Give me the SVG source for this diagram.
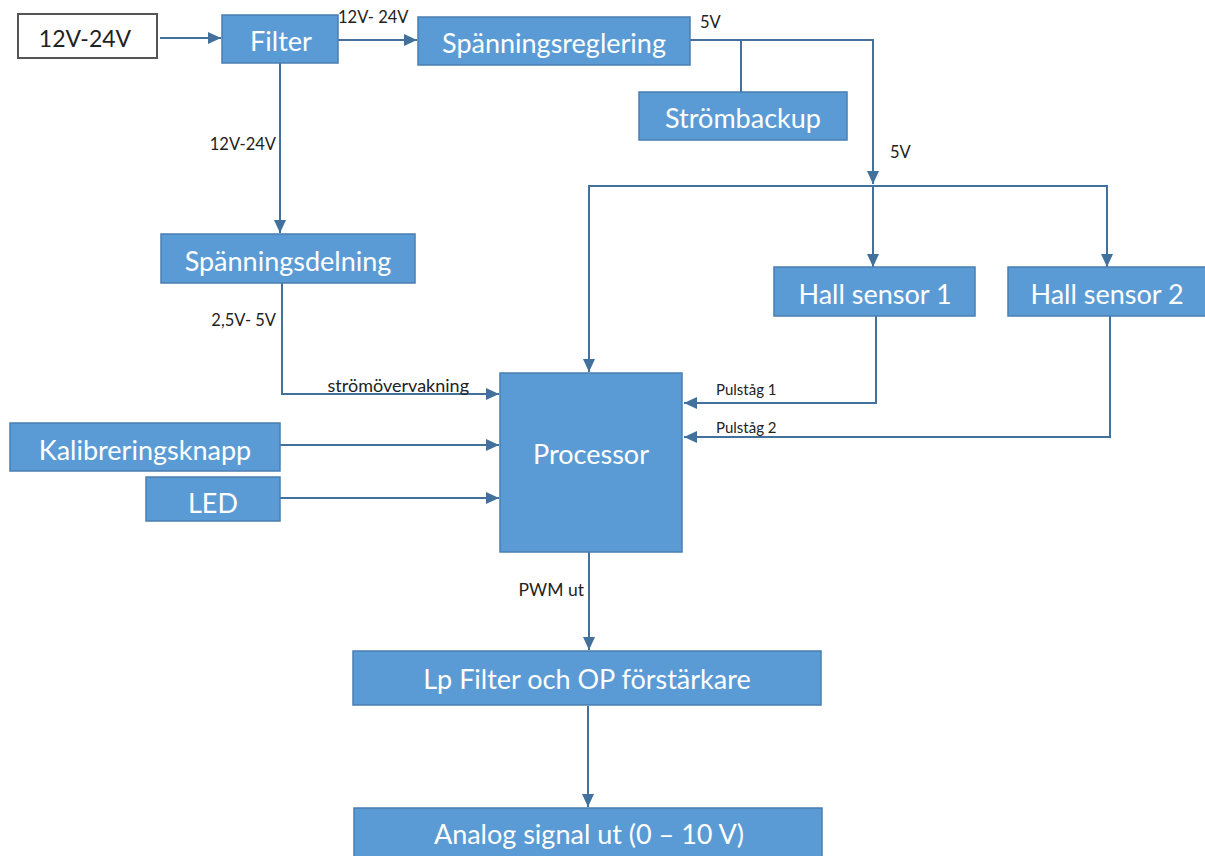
<svg xmlns="http://www.w3.org/2000/svg" width="1205" height="856" viewBox="0 0 1205 856">
  <style>
    .box { fill: #5B9BD5; stroke: #4A7EB0; stroke-width: 1.5; }
    .src { fill: #FFFFFF; stroke: #555555; stroke-width: 2; }
    .lbl { font-family: Lato, "Liberation Sans", sans-serif; font-size: 27px; fill: #FFFFFF; text-anchor: middle; dominant-baseline: central; }
    .srclbl { font-family: Lato, "Liberation Sans", sans-serif; font-size: 23px; fill: #222222; text-anchor: middle; dominant-baseline: central; }
    .note { font-family: Lato, "Liberation Sans", sans-serif; font-size: 16.5px; fill: #222222; }
    .end { text-anchor: end; }
    .wire { fill: none; stroke: #41719C; stroke-width: 2; }
  </style>
  <defs>
    <marker id="arrow" markerUnits="userSpaceOnUse" markerWidth="14" markerHeight="14" viewBox="0 0 14 14" refX="13" refY="7" orient="auto">
      <path d="M0,1 L13,7 L0,13 Z" fill="#41719C"/>
    </marker>
  </defs>

  <rect width="1205" height="856" fill="#FFFFFF"/>

  <!-- connectors -->
  <g id="connectors">
    <path class="wire" d="M160,38 H221" marker-end="url(#arrow)"/>
    <path class="wire" d="M338,40 H417" marker-end="url(#arrow)"/>
    <path class="wire" d="M690,40 H873 V184" marker-end="url(#arrow)"/>
    <path class="wire" d="M741,40 V92"/>
    <!-- 5V bus -->
    <path class="wire" d="M873,186 H589 V372" marker-end="url(#arrow)"/>
    <path class="wire" d="M873,186 H1107 V267" marker-end="url(#arrow)"/>
    <path class="wire" d="M873,186 V267" marker-end="url(#arrow)"/>
    <path class="wire" d="M280,63 V233" marker-end="url(#arrow)"/>
    <path class="wire" d="M282,283 V394 H499" marker-end="url(#arrow)"/>
    <path class="wire" d="M280,445 H499" marker-end="url(#arrow)"/>
    <path class="wire" d="M280,498 H499" marker-end="url(#arrow)"/>
    <path class="wire" d="M876,316 V403 H684" marker-end="url(#arrow)"/>
    <path class="wire" d="M1110,316 V437 H684" marker-end="url(#arrow)"/>
    <path class="wire" d="M589,552 V650" marker-end="url(#arrow)"/>
    <path class="wire" d="M588,706 V807" marker-end="url(#arrow)"/>

    <text class="note" x="338" y="23">12V- 24V</text>
    <text class="note" x="700" y="28">5V</text>
    <text class="note" x="890" y="158">5V</text>
    <text class="note end" x="276" y="150">12V-24V</text>
    <text class="note end" x="276" y="326">2,5V- 5V</text>
    <text class="note end" x="469" y="392" style="font-size:18px">strömövervakning</text>
    <text class="note" x="716" y="395" style="font-size:15px">Pulståg 1</text>
    <text class="note" x="716" y="433" style="font-size:15px">Pulståg 2</text>
    <text class="note end" x="584" y="596" style="font-size:17.5px">PWM ut</text>
  </g>

  <g id="source">
    <rect class="src" x="18" y="14" width="139" height="44"/>
    <text class="srclbl" x="85" y="38">12V-24V</text>
  </g>
  <g id="filter">
    <rect class="box" x="222" y="15" width="116" height="48"/>
    <text class="lbl" x="281" y="40">Filter</text>
  </g>
  <g id="spanningsreglering">
    <rect class="box" x="418" y="17" width="272" height="48"/>
    <text class="lbl" x="554" y="42">Spänningsreglering</text>
  </g>
  <g id="strombackup">
    <rect class="box" x="639" y="92" width="208" height="48"/>
    <text class="lbl" x="743" y="117">Strömbackup</text>
  </g>
  <g id="spanningsdelning">
    <rect class="box" x="161" y="234" width="254" height="49"/>
    <text class="lbl" x="288" y="260">Spänningsdelning</text>
  </g>
  <g id="hall1">
    <rect class="box" x="774" y="267" width="201" height="49"/>
    <text class="lbl" x="875" y="293">Hall sensor 1</text>
  </g>
  <g id="hall2">
    <rect class="box" x="1008" y="267" width="199" height="49"/>
    <text class="lbl" x="1107" y="293">Hall sensor 2</text>
  </g>
  <g id="processor">
    <rect class="box" x="500" y="373" width="182" height="179"/>
    <text class="lbl" x="591" y="453">Processor</text>
  </g>
  <g id="kalibrering">
    <rect class="box" x="10" y="423" width="270" height="48"/>
    <text class="lbl" x="145" y="449">Kalibreringsknapp</text>
  </g>
  <g id="led">
    <rect class="box" x="146" y="477" width="134" height="44"/>
    <text class="lbl" x="213" y="502">LED</text>
  </g>
  <g id="lpfilter">
    <rect class="box" x="353" y="651" width="468" height="54"/>
    <text class="lbl" x="587" y="678">Lp Filter och OP förstärkare</text>
  </g>
  <g id="analog">
    <rect class="box" x="354" y="808" width="468" height="60"/>
    <text class="lbl" x="589" y="833">Analog signal ut (0 – 10 V)</text>
  </g>
</svg>
